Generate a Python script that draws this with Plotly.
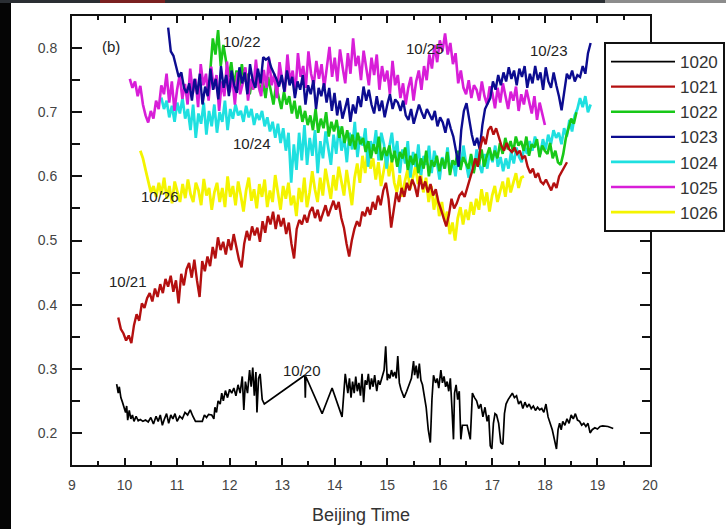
import numpy as np
import plotly.graph_objects as go

# ---- time series: transmittance-like index vs Beijing time ----
t1020 = [9.85, 9.88, 9.90, 9.93, 9.96, 9.99, 10.02, 10.04, 10.06, 10.09, 10.12, 10.15, 10.18, 10.22, 10.26,
         10.30, 10.35, 10.40, 10.45, 10.50, 10.55, 10.60, 10.64, 10.68, 10.72, 10.76, 10.80, 10.84, 10.88,
         10.92, 10.96, 11.00, 11.05, 11.10, 11.15, 11.20, 11.25, 11.30, 11.35, 11.40, 11.48, 11.52, 11.56,
         11.60, 11.66, 11.70, 11.72, 11.75, 11.78, 11.82, 11.85, 11.88, 11.92, 11.96, 12.00, 12.04, 12.08,
         12.12, 12.16, 12.20, 12.24, 12.27, 12.30, 12.34, 12.38, 12.41, 12.44, 12.47, 12.50, 12.52, 12.55,
         12.58, 12.62, 12.66, 13.43, 13.44, 13.45, 13.76, 13.95, 14.14, 14.20, 14.25, 14.28, 14.31, 14.34,
         14.37, 14.40, 14.43, 14.46, 14.49, 14.52, 14.55, 14.58, 14.61, 14.64, 14.67, 14.70, 14.73, 14.76,
         14.80, 14.83, 14.86, 14.90, 14.94, 14.97, 15.00, 15.02, 15.05, 15.08, 15.11, 15.14, 15.17, 15.20,
         15.23, 15.26, 15.29, 15.32, 15.37, 15.42, 15.46, 15.50, 15.52, 15.55, 15.58, 15.61, 15.64, 15.67,
         15.70, 15.74, 15.78, 15.82, 15.85, 15.88, 15.92, 15.95, 15.98, 16.02, 16.05, 16.08, 16.11, 16.14,
         16.17, 16.20, 16.23, 16.26, 16.28, 16.31, 16.34, 16.37, 16.40, 16.43, 16.46, 16.52, 16.58, 16.62,
         16.66, 16.70, 16.74, 16.78, 16.82, 16.86, 16.90, 16.93, 16.96, 16.99, 17.02, 17.05, 17.08, 17.12,
         17.16, 17.20, 17.23, 17.26, 17.30, 17.34, 17.38, 17.42, 17.46, 17.50, 17.54, 17.58, 17.62, 17.66,
         17.70, 17.74, 17.78, 17.82, 17.86, 17.90, 17.94, 17.98, 18.02, 18.06, 18.10, 18.14, 18.18, 18.22,
         18.25, 18.28, 18.31, 18.34, 18.38, 18.42, 18.46, 18.50, 18.54, 18.58, 18.62, 18.66, 18.70, 18.74,
         18.78, 18.82, 18.86, 18.90, 18.95, 19.00, 19.05, 19.10, 19.20, 19.30, 19.36]
v1020 = [0.276, 0.262, 0.272, 0.255, 0.248, 0.240, 0.232, 0.242, 0.220, 0.235, 0.222, 0.228, 0.218, 0.226, 0.219,
         0.221, 0.218, 0.220, 0.217, 0.224, 0.214, 0.226, 0.218, 0.228, 0.212, 0.222, 0.230, 0.215, 0.228,
         0.222, 0.230, 0.218, 0.226, 0.222, 0.232, 0.228, 0.236, 0.226, 0.218, 0.218, 0.218, 0.228, 0.224,
         0.229, 0.228, 0.222, 0.240, 0.232, 0.250, 0.245, 0.262, 0.250, 0.266, 0.255, 0.268, 0.262, 0.270,
         0.258, 0.275, 0.262, 0.288, 0.236, 0.280, 0.262, 0.298, 0.272, 0.302, 0.258, 0.295, 0.232, 0.285,
         0.292, 0.252, 0.245, 0.290, 0.255, 0.288, 0.230, 0.270, 0.225, 0.292, 0.262, 0.285, 0.255, 0.280,
         0.262, 0.288, 0.265, 0.278, 0.258, 0.292, 0.248, 0.282, 0.275, 0.292, 0.268, 0.285, 0.272, 0.290,
         0.265, 0.282, 0.275, 0.288, 0.298, 0.335, 0.282, 0.292, 0.285, 0.298, 0.288, 0.295, 0.285, 0.320,
         0.278, 0.268, 0.262, 0.255, 0.265, 0.278, 0.285, 0.312, 0.290, 0.305, 0.285, 0.308, 0.282, 0.275,
         0.262, 0.240, 0.205, 0.185, 0.252, 0.290, 0.278, 0.285, 0.270, 0.298, 0.278, 0.288, 0.272, 0.280,
         0.265, 0.285, 0.240, 0.190, 0.262, 0.275, 0.252, 0.265, 0.190, 0.212, 0.212, 0.212, 0.190, 0.262,
         0.255, 0.250, 0.238, 0.245, 0.225, 0.240, 0.218, 0.228, 0.180, 0.175, 0.215, 0.230, 0.228, 0.215,
         0.185, 0.182, 0.230, 0.245, 0.252, 0.258, 0.262, 0.255, 0.258, 0.245, 0.250, 0.238, 0.248, 0.240,
         0.245, 0.238, 0.242, 0.235, 0.240, 0.236, 0.238, 0.232, 0.245, 0.225, 0.215, 0.205, 0.190, 0.175,
         0.205, 0.215, 0.205, 0.218, 0.212, 0.222, 0.215, 0.228, 0.222, 0.230, 0.220, 0.218, 0.212, 0.215,
         0.210, 0.215, 0.200, 0.205, 0.208, 0.206, 0.210, 0.211, 0.210, 0.207]

span1021 = (9.88, 18.42)
v1021 = [0.380, 0.362, 0.355, 0.344, 0.352, 0.340, 0.368,
         0.385, 0.375, 0.402, 0.395, 0.410, 0.418, 0.405, 0.425,
         0.412, 0.432, 0.418, 0.440, 0.428, 0.445, 0.420, 0.438,
         0.402, 0.448, 0.430, 0.455, 0.465, 0.442, 0.470, 0.438, 0.412, 0.468,
         0.452, 0.475, 0.460, 0.490, 0.472, 0.505, 0.485, 0.498, 0.478, 0.502,
         0.485, 0.510, 0.492, 0.470, 0.458, 0.495, 0.515, 0.500, 0.522, 0.508,
         0.520, 0.498, 0.530, 0.512, 0.538, 0.525, 0.545, 0.518, 0.540, 0.522,
         0.535, 0.510, 0.528, 0.495, 0.472, 0.518, 0.532, 0.525, 0.540, 0.528,
         0.545, 0.552, 0.535, 0.548, 0.530, 0.542, 0.555, 0.538, 0.550, 0.562,
         0.548, 0.560, 0.535, 0.520, 0.495, 0.475, 0.500, 0.518, 0.530, 0.522,
         0.545, 0.538, 0.552, 0.540, 0.560, 0.548, 0.570, 0.555, 0.578, 0.590,
         0.565, 0.520, 0.548, 0.575, 0.560, 0.582, 0.568, 0.590, 0.578, 0.595,
         0.585, 0.568, 0.600, 0.580, 0.592, 0.575, 0.588, 0.570, 0.580, 0.560,
         0.548, 0.535, 0.522, 0.540, 0.565, 0.550, 0.558, 0.570, 0.575, 0.568,
         0.582, 0.595, 0.610, 0.628, 0.615, 0.645, 0.662, 0.650, 0.672, 0.678,
         0.665, 0.675, 0.660, 0.648, 0.640, 0.652, 0.642, 0.638, 0.645, 0.635,
         0.640, 0.628, 0.632, 0.615, 0.605, 0.612, 0.598, 0.605, 0.592, 0.588,
         0.595, 0.585, 0.578, 0.590, 0.582, 0.600, 0.608, 0.615, 0.622]

span1022 = (11.63, 18.60)
v1022 = [0.762, 0.815, 0.790, 0.828, 0.772, 0.805, 0.780, 0.755,
         0.778, 0.742, 0.765, 0.735, 0.775, 0.748, 0.760, 0.728, 0.752, 0.738,
         0.765, 0.730, 0.748, 0.722, 0.755, 0.735, 0.712, 0.742, 0.725, 0.705,
         0.732, 0.712, 0.725, 0.698, 0.718, 0.690, 0.710, 0.685, 0.702, 0.680,
         0.695, 0.672, 0.705, 0.668, 0.690, 0.675, 0.700, 0.662, 0.685, 0.670,
         0.688, 0.660, 0.678, 0.652, 0.672, 0.648, 0.665, 0.642, 0.668, 0.650,
         0.660, 0.638, 0.655, 0.628, 0.650, 0.635, 0.662, 0.625, 0.645, 0.632,
         0.648, 0.622, 0.640, 0.615, 0.638, 0.628, 0.645, 0.610, 0.632, 0.618,
         0.635, 0.605, 0.628, 0.612, 0.640, 0.600, 0.625, 0.615, 0.632, 0.608,
         0.628, 0.612, 0.638, 0.602, 0.625, 0.618, 0.640, 0.610, 0.630, 0.620,
         0.612, 0.635, 0.605, 0.628, 0.618, 0.642, 0.615, 0.632, 0.645, 0.625,
         0.640, 0.628, 0.652, 0.635, 0.660, 0.642, 0.655, 0.638, 0.662, 0.648,
         0.655, 0.640, 0.662, 0.632, 0.650, 0.645, 0.658, 0.630, 0.648, 0.640,
         0.635, 0.652, 0.628, 0.640, 0.622, 0.618, 0.635, 0.660, 0.675, 0.690, 0.682, 0.700]

span1023 = (10.83, 18.87)
v1023 = [0.832, 0.795, 0.788, 0.772, 0.755, 0.762, 0.738, 0.730,
         0.745, 0.718, 0.752, 0.728, 0.760, 0.712, 0.740, 0.725, 0.768, 0.735,
         0.752, 0.720, 0.772, 0.738, 0.758, 0.725, 0.765, 0.742, 0.730, 0.770,
         0.745, 0.762, 0.728, 0.775, 0.750, 0.738, 0.768, 0.745, 0.786, 0.782,
         0.785, 0.770, 0.762, 0.752, 0.740, 0.758, 0.732, 0.765, 0.742, 0.755,
         0.722, 0.748, 0.735, 0.758, 0.712, 0.742, 0.728, 0.750, 0.705, 0.738,
         0.725, 0.745, 0.715, 0.738, 0.702, 0.730, 0.695, 0.718, 0.690, 0.708,
         0.722, 0.685, 0.712, 0.698, 0.725, 0.708, 0.740, 0.718, 0.735, 0.712,
         0.698, 0.725, 0.702, 0.718, 0.692, 0.712, 0.728, 0.705, 0.720, 0.715,
         0.702, 0.718, 0.695, 0.688, 0.705, 0.682, 0.698, 0.712, 0.700, 0.690,
         0.705, 0.695, 0.688, 0.702, 0.678, 0.692, 0.684, 0.668, 0.690, 0.675,
         0.662, 0.640, 0.615, 0.672, 0.702, 0.714, 0.690, 0.665, 0.648, 0.660,
         0.642, 0.680, 0.705, 0.715, 0.722, 0.748, 0.735, 0.758, 0.742, 0.762,
         0.748, 0.770, 0.752, 0.765, 0.742, 0.768, 0.755, 0.772, 0.738, 0.760,
         0.745, 0.772, 0.750, 0.762, 0.735, 0.770, 0.748, 0.738, 0.762, 0.742,
         0.725, 0.703, 0.735, 0.760, 0.752, 0.765, 0.748, 0.758, 0.755, 0.772, 0.760, 0.792, 0.808]

span1024 = (10.70, 18.87)
v1024 = [0.723, 0.705, 0.718, 0.692, 0.710, 0.685, 0.715, 0.698, 0.722, 0.690,
         0.705, 0.672, 0.712, 0.660, 0.698, 0.682, 0.715, 0.665, 0.702, 0.678,
         0.712, 0.668, 0.700, 0.685, 0.718, 0.672, 0.705, 0.690, 0.712, 0.695,
         0.702, 0.685, 0.710, 0.692, 0.705, 0.680, 0.698, 0.688, 0.702, 0.678,
         0.692, 0.670, 0.685, 0.660, 0.682, 0.652, 0.675, 0.640, 0.668, 0.590,
         0.650, 0.610, 0.668, 0.625, 0.680, 0.618, 0.660, 0.632, 0.672, 0.605,
         0.655, 0.628, 0.670, 0.642, 0.618, 0.665, 0.635, 0.678, 0.640, 0.660,
         0.622, 0.668, 0.642, 0.685, 0.630, 0.662, 0.648, 0.675, 0.615, 0.655,
         0.640, 0.672, 0.625, 0.668, 0.650, 0.612, 0.645, 0.668, 0.630, 0.655,
         0.605, 0.642, 0.620, 0.655, 0.598, 0.638, 0.615, 0.650, 0.602, 0.632,
         0.618, 0.648, 0.605, 0.640, 0.622, 0.595, 0.630, 0.612, 0.645, 0.608,
         0.625, 0.600, 0.638, 0.615, 0.648, 0.620, 0.598, 0.632, 0.610, 0.642,
         0.618, 0.605, 0.635, 0.612, 0.640, 0.622, 0.648, 0.615, 0.630, 0.608,
         0.628, 0.612, 0.638, 0.620, 0.645, 0.630, 0.622, 0.648, 0.635, 0.655,
         0.640, 0.662, 0.648, 0.635, 0.658, 0.642, 0.665, 0.650, 0.672, 0.660,
         0.668, 0.650, 0.675, 0.662, 0.688, 0.670, 0.695, 0.705, 0.722, 0.708, 0.725, 0.700, 0.712]

span1025 = (10.10, 18.00)
v1025 = [0.752, 0.738, 0.748, 0.725, 0.741, 0.712, 0.695, 0.684, 0.702, 0.690, 0.718, 0.705,
         0.742, 0.728, 0.760, 0.715, 0.748, 0.702, 0.735, 0.758, 0.721, 0.744,
         0.712, 0.768, 0.730, 0.752, 0.708, 0.775, 0.742, 0.760, 0.718, 0.771,
         0.736, 0.758, 0.702, 0.748, 0.725, 0.779, 0.731, 0.755, 0.712, 0.762,
         0.728, 0.745, 0.770, 0.718, 0.752, 0.735, 0.782, 0.741, 0.725, 0.766,
         0.738, 0.785, 0.742, 0.760, 0.722, 0.778, 0.750, 0.732, 0.790, 0.748,
         0.765, 0.728, 0.792, 0.755, 0.772, 0.738, 0.795, 0.760, 0.742, 0.780,
         0.752, 0.775, 0.738, 0.768, 0.802, 0.755, 0.785, 0.748, 0.798, 0.770,
         0.745, 0.792, 0.760, 0.815, 0.772, 0.788, 0.750, 0.796, 0.768, 0.742,
         0.785, 0.758, 0.790, 0.735, 0.772, 0.748, 0.765, 0.728, 0.780, 0.742,
         0.758, 0.722, 0.745, 0.712, 0.738, 0.755, 0.718, 0.748, 0.765, 0.735,
         0.772, 0.750, 0.790, 0.768, 0.805, 0.778, 0.812, 0.795, 0.823, 0.790,
         0.808, 0.775, 0.792, 0.745, 0.765, 0.738, 0.728, 0.750, 0.722, 0.742,
         0.735, 0.718, 0.748, 0.725, 0.712, 0.740, 0.730, 0.706, 0.738, 0.715,
         0.745, 0.722, 0.705, 0.732, 0.718, 0.740, 0.702, 0.728, 0.712, 0.735,
         0.718, 0.698, 0.725, 0.688, 0.715, 0.695, 0.680]

span1026 = (10.30, 17.60)
v1026 = [0.640, 0.628, 0.610, 0.592, 0.575, 0.585,
         0.568, 0.590, 0.572, 0.598, 0.565, 0.585, 0.558, 0.592, 0.575, 0.560,
         0.588, 0.566, 0.595, 0.572, 0.560, 0.590, 0.578, 0.555, 0.596, 0.570,
         0.582, 0.548, 0.575, 0.590, 0.560, 0.582, 0.552, 0.600, 0.568, 0.585,
         0.555, 0.592, 0.570, 0.545, 0.578, 0.598, 0.562, 0.580, 0.550, 0.588,
         0.568, 0.595, 0.552, 0.578, 0.560, 0.602, 0.575, 0.548, 0.585, 0.565,
         0.590, 0.555, 0.570, 0.538, 0.582, 0.560, 0.598, 0.552, 0.575, 0.608,
         0.580, 0.560, 0.598, 0.570, 0.612, 0.585, 0.565, 0.602, 0.578, 0.615,
         0.595, 0.570, 0.610, 0.582, 0.555, 0.598, 0.620, 0.590, 0.632, 0.605,
         0.645, 0.612, 0.628, 0.595, 0.622, 0.585, 0.610, 0.632, 0.600, 0.625,
         0.590, 0.575, 0.602, 0.568, 0.592, 0.610, 0.580, 0.598, 0.615, 0.588,
         0.605, 0.575, 0.598, 0.560, 0.585, 0.548, 0.572, 0.538, 0.560, 0.530,
         0.545, 0.510, 0.528, 0.500, 0.535, 0.552, 0.525, 0.548, 0.532, 0.560,
         0.540, 0.565, 0.548, 0.580, 0.555, 0.575, 0.545, 0.570, 0.585, 0.560,
         0.578, 0.592, 0.568, 0.598, 0.575, 0.590, 0.605, 0.582, 0.598, 0.600]

# curve labels placed next to each day's trace
day_labels = ["(b)", "10/22", "10/25", "10/23", "10/24", "10/26", "10/21", "10/20"]
label_x = [9.74, 12.24, 15.72, 18.07, 12.43, 10.68, 10.07, 13.38]
label_y = [0.803, 0.810, 0.800, 0.796, 0.652, 0.569, 0.436, 0.298]

FONT = "Liberation Sans, Arial, sans-serif"

# figure geometry (pixels)
W, H = 726, 529
ML, MR, MB = 72, 76, 64
PLOT_TOP = 16
PAPER_H = H - MB            # top margin is zero; the y domain leaves the top gap
Y_DOMAIN_TOP = (PAPER_H - PLOT_TOP) / PAPER_H


def px_to_paper_x(px):
    return (px - ML) / (W - ML - MR)


def px_to_paper_y(py):
    return (PAPER_H - py) / PAPER_H


def sampled(span, values):
    # evenly spaced sample times across the recording window
    return np.linspace(span[0], span[1], len(values))


series = [
    # name, times, values, colour, width, legend rank (draw order = list order)
    ("1026", sampled(span1026, v1026), v1026, "#f4f400", 2.8, 7),
    ("1024", sampled(span1024, v1024), v1024, "#1fe0e0", 2.7, 5),
    ("1022", sampled(span1022, v1022), v1022, "#18c818", 2.6, 3),
    ("1025", sampled(span1025, v1025), v1025, "#d81ed8", 2.6, 6),
    ("1023", sampled(span1023, v1023), v1023, "#0c0c90", 2.4, 4),
    ("1021", sampled(span1021, v1021), v1021, "#b41010", 2.4, 2),
    ("1020", t1020, v1020, "#000000", 1.7, 1),
]

fig = go.Figure()
for name, tx, vy, col, w, rank in series:
    fig.add_trace(go.Scatter(
        x=tx, y=vy, mode="lines", name=name,
        line=dict(color=col, width=w),
        legendrank=rank, legendgroup=name,
    ))

annotations = []
for txt, ax, ay in zip(day_labels, label_x, label_y):
    annotations.append(dict(
        x=ax, y=ay, xref="x", yref="y", text=txt, showarrow=False,
        font=dict(family=FONT, size=15, color="#222222"),
    ))

# dark frame around the slide: left bar and a thin top strip
strip_y0 = px_to_paper_y(3)
shapes = [
    dict(type="rect", xref="paper", yref="paper", x0=-0.2, x1=px_to_paper_x(11), y0=-0.3, y1=1.2,
         fillcolor="#050505", line=dict(width=0), layer="above"),
    dict(type="rect", xref="paper", yref="paper", x0=-0.2, x1=1.3, y0=strip_y0, y1=1.2,
         fillcolor="#2a2e33", line=dict(width=0), layer="above"),
    dict(type="rect", xref="paper", yref="paper", x0=px_to_paper_x(100), x1=px_to_paper_x(165),
         y0=strip_y0, y1=1.2, fillcolor="#7a2020", line=dict(width=0), layer="above"),
    dict(type="rect", xref="paper", yref="paper", x0=px_to_paper_x(605), x1=1.3,
         y0=strip_y0, y1=1.2, fillcolor="#8c8c8c", line=dict(width=0), layer="above"),
]

axis_common = dict(
    showline=True, linecolor="#111111", linewidth=2, mirror="ticks",
    ticks="inside", tickcolor="#111111", tickwidth=2,
    showgrid=False, zeroline=False, automargin=False,
    tickfont=dict(family=FONT, size=14, color="#444444"),
)

fig.update_layout(
    width=W, height=H,
    margin=dict(l=ML, r=MR, t=0, b=MB),
    paper_bgcolor="white", plot_bgcolor="white",
    showlegend=True,
    legend=dict(
        x=px_to_paper_x(725), y=px_to_paper_y(42), xanchor="right", yanchor="top",
        bgcolor="white", bordercolor="#111111", borderwidth=2,
        font=dict(family=FONT, size=17, color="#333333"),
        itemwidth=64, tracegroupgap=0, traceorder="grouped",
    ),
    xaxis=dict(
        range=[9, 20], dtick=1, tick0=9, ticklen=7,
        minor=dict(ticks="inside", dtick=0.5, ticklen=4, tickcolor="#111111", tickwidth=2),
        ticklabelstandoff=6,
        title=dict(text="Beijing Time", font=dict(family=FONT, size=18, color="#333333"), standoff=17),
        **axis_common,
    ),
    yaxis=dict(
        domain=[0, Y_DOMAIN_TOP],
        range=[0.15, 0.85], dtick=0.1, tick0=0.2, ticklen=10, tickformat=".1f",
        minor=dict(ticks="inside", dtick=0.05, ticklen=8, tickcolor="#111111", tickwidth=2),
        ticklabelstandoff=10,
        **axis_common,
    ),
    annotations=annotations,
    shapes=shapes,
)

fig.write_html("out.html")
